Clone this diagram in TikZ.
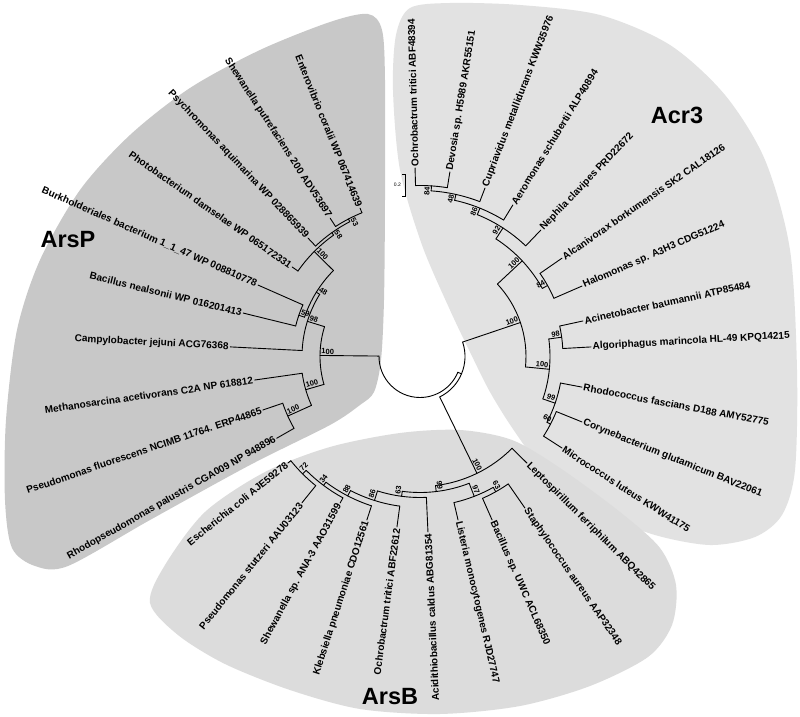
\documentclass[tikz,border=0pt]{standalone}
\usepackage{fontspec}
\setmainfont{Liberation Sans}

\definecolor{arspgray}{RGB}{200,200,200}
\definecolor{acrgray}{RGB}{226,226,226}
\definecolor{arsbgray}{RGB}{220,220,220}

% leaf: name, angle, base radius, tip radius, text
\newcommand{\taxleaf}[5]{%
  \draw[branch] (#2:#3) -- (#2:#4);
  \pgfmathtruncatemacro{\taxflip}{or(#2>95,#2<-86)}%
  \ifnum\taxflip=1
    \node[taxon, rotate=#2+180, anchor=east] (#1) at (#2:#4) {#5};
  \else
    \node[taxon, rotate=#2, anchor=west] (#1) at (#2:#4) {#5};
  \fi}

% clade: name, angle, parent radius, radius, arc from, arc to, bootstrap
\newcommand{\taxclade}[7]{%
  \draw[branch] (#2:#3) -- (#2:#4);
  \draw[branch] (#5:#4) arc[start angle=#5, end angle=#6, radius=#4pt];
  \pgfmathtruncatemacro{\taxflip}{or(#2>90,#2<-90)}%
  \ifnum\taxflip=1
    \node[boot, rotate=#2+180, anchor=south west] (#1) at (#2:#4) {#7};
  \else
    \node[boot, rotate=#2, anchor=south east] (#1) at (#2:#4) {#7};
  \fi}

\begin{document}
\begin{tikzpicture}[x=1pt, y=1pt,
    branch/.style={line width=0.9pt, line cap=round},
    taxon/.style={font=\bfseries\fontsize{10}{12}\selectfont, inner sep=1.5pt},
    boot/.style={font=\bfseries\fontsize{7.5}{8}\selectfont, inner sep=1.2pt},
    group/.style={font=\bfseries\fontsize{23.5}{28}\selectfont}]

    \useasboundingbox (-420,-360.5) rectangle (380,356.5);
    \fill[white] (-420,-360.5) rectangle (380,356.5);

    % group backgrounds (image coordinates)
    \begin{scope}[shift={(-420,356.5)}, yscale=-1]
        \fill[arspgray] plot[smooth cycle, tension=0.5] coordinates {
            (374,392) (381,360) (384,300) (385,200) (385,80) (382,30) (368,14)
            (330,22) (260,50) (190,88) (130,135) (80,190) (40,260) (17,330)
            (6,420) (5,500) (12,548) (35,566) (68,566) (150,520) (250,465)
            (330,425) (360,405)};
        \fill[acrgray] plot[smooth cycle, tension=0.5] coordinates {
            (410,8) (396,35) (393,90) (400,170) (422,245) (450,310) (470,352)
            (490,392) (515,432) (550,478) (600,513) (655,535) (710,545)
            (755,537) (782,515) (795,470) (797,370) (790,250) (765,160)
            (725,95) (670,45) (600,15) (520,5) (450,3)};
        \fill[arsbgray] plot[smooth cycle, tension=0.5] coordinates {
            (150,603) (165,565) (205,512) (265,472) (330,447) (400,433)
            (460,430) (512,440) (560,468) (620,512) (660,548) (676,585)
            (672,625) (648,657) (590,686) (520,706) (440,714) (360,709)
            (290,690) (225,664) (178,635)};
    \end{scope}

    % root circle
    \draw[branch] (179.4:41) arc[start angle=179.4, end angle=337.35, radius=41pt];
    \draw[branch] (337.35:41) -- (337.35:45);
    \draw[branch] (-64:45) arc[start angle=-64, end angle=18.7, radius=45pt];

    % ArsP
    \taxclade{p0}{179.4}{41}{100}{162.65}{196.2}{100}
    \taxclade{p98}{162.65}{100}{118}{148.2}{177.1}{98}
    \taxleaf{campy}{177.1}{118}{190}{Campylobacter jejuni ACG76368}
    \taxclade{p48}{148.2}{118}{122}{135.2}{161.2}{48}
    \taxclade{p59}{161.2}{122}{128}{156.2}{166.2}{59}
    \taxleaf{bneal}{166.2}{128}{182}{Bacillus nealsonii WP 016201413}
    \taxleaf{burk}{156.2}{128}{177}{Burkholderiales bacterium 1\_1\_47 WP 008810778}
    \taxclade{p100}{135.2}{122}{149}{125.45}{145}{100}
    \taxleaf{photo}{145}{149}{156}{Photobacterium damselae WP 065172331}
    \taxclade{p58}{125.45}{149}{152}{117.5}{133.4}{58}
    \taxleaf{psychro}{133.4}{152}{163}{Psychromonas aquimarina WP 028865939}
    \taxclade{p53}{117.5}{152}{155}{112}{123}{53}
    \taxleaf{sput}{123}{155}{165}{Shewanella putrefaciens 200 ADV53697}
    \taxleaf{entero}{112}{155}{160}{Enterovibrio coralii WP 067414639}
    \taxclade{p2}{196.2}{100}{119}{188.1}{204.25}{100}
    \taxleaf{methano}{188.1}{119}{167}{Methanosarcina acetivorans C2A NP 618812}
    \taxclade{p3}{204.25}{119}{145}{198.8}{209.7}{100}
    \taxleaf{pfluor}{198.8}{145}{166}{Pseudomonas fluorescens NCIMB 11764. ERP44865}
    \taxleaf{rpal}{209.7}{145}{165}{Rhodopseudomonas palustris CGA009 NP 948896}

    % Acr3
    \taxclade{a0}{18.7}{45}{106}{-5.65}{43.1}{100}
    \taxclade{a100}{43.1}{106}{140}{29.1}{57.15}{100}
    \taxclade{a92}{57.15}{140}{153}{46.3}{68}{92}
    \taxclade{a86}{68}{153}{160}{58.5}{77.5}{86}
    \taxclade{a48}{77.5}{160}{166}{68.9}{86.15}{48}
    \taxclade{a84}{86.15}{166}{171}{80.8}{91.5}{84}
    \taxleaf{ochra}{91.5}{171}{188.6}{Ochrobactrum tritici ABF48394}
    \taxleaf{devosia}{80.8}{171}{187}{Devosia sp. H5989 AKR55151}
    \taxleaf{cupria}{68.9}{166}{180.6}{Cupriavidus metallidurans KWW35976}
    \taxleaf{aero}{58.5}{160}{177.8}{Aeromonas schubertii ALP40894}
    \taxleaf{nephila}{46.3}{153}{175}{Nephila clavipes PRD22672}
    \taxclade{a84b}{29.1}{140}{146}{23.5}{34.7}{84}
    \taxleaf{alcani}{34.7}{146}{172.8}{Alcanivorax borkumensis SK2 CAL18126}
    \taxleaf{halo}{23.5}{146}{176.7}{Halomonas sp. A3H3 CDG51224}
    \taxclade{a2}{-5.65}{106}{130}{-19.05}{7.75}{100}
    \taxclade{a98}{7.75}{130}{143}{3.2}{12.3}{98}
    \taxleaf{acineto}{12.3}{143}{166.8}{Acinetobacter baumannii ATP85484}
    \taxleaf{algori}{3.2}{143}{171.3}{Algoriphagus marincola HL-49 KPQ14215}
    \taxclade{a99}{-19.05}{130}{143}{-27.4}{-10.7}{99}
    \taxleaf{rhodoc}{-10.7}{143}{164.8}{Rhodococcus fascians D188 AMY52775}
    \taxclade{a60}{-27.4}{143}{147}{-32.8}{-22}{60}
    \taxleaf{coryne}{-22}{147}{174.7}{Corynebacterium glutamicum BAV22061}
    \taxleaf{micro}{-32.8}{147}{169}{Micrococcus luteus KWW41175}

    % ArsB
    \taxclade{b0}{-64}{45}{130}{-83.15}{-44.9}{100}
    \taxleaf{lepto}{-44.9}{130}{151}{Leptospirillum ferriphilum ABQ42865}
    \taxclade{b99}{-83.15}{130}{136}{-97.5}{-68.8}{99}
    \taxclade{b97}{-68.8}{136}{150}{-76.9}{-60.75}{97}
    \taxleaf{lister}{-76.9}{150}{167.9}{Listeria monocytogenes RJD27747}
    \taxclade{b63r}{-60.75}{150}{155}{-66.2}{-55.3}{63}
    \taxleaf{bacil}{-66.2}{155}{178.7}{Bacillus sp. UWC ACL68350}
    \taxleaf{staph}{-55.3}{155}{184.3}{Staphylococcus aureus AAP32348}
    \taxclade{b63l}{-97.5}{136}{141}{-107.55}{-87.4}{63}
    \taxleaf{acidi}{-87.4}{141}{175.7}{Acidithiobacillus caldus ABG81354}
    \taxclade{b86}{-107.55}{141}{151}{-117.4}{-97.7}{86}
    \taxleaf{ochrb}{-97.7}{151}{172}{Ochrobactrum tritici ABF22612}
    \taxclade{b88}{-117.4}{151}{157}{-126.8}{-108}{88}
    \taxleaf{klebs}{-108}{157}{171.9}{Klebsiella pneumoniae CDO12561}
    \taxclade{b34}{-126.8}{157}{161}{-135}{-118.6}{34}
    \taxleaf{shew}{-118.6}{161}{166.9}{Shewanella sp. ANA-3 AAO31599}
    \taxclade{b72}{-135}{161}{166}{-141.1}{-128.9}{72}
    \taxleaf{pstut}{-128.9}{166}{188}{Pseudomonas stutzeri AAU03123}
    \taxleaf{ecoli}{-141.1}{166}{169.6}{Escherichia coli AJE59278}

    % scale bar
    \draw[line width=0.6pt] (-18,182.5) -- (-15,182.5) -- (-15,160.5) -- (-18,160.5);
    \node[font=\fontsize{5}{6}\selectfont, anchor=east, inner sep=1pt] (scale) at (-18,171.5) {0.2};

    % group names
    \node[group] (arsp) at (-352,116.5) {ArsP};
    \node[group] (acr3) at (257,241.5) {Acr3};
    \node[group] (arsb) at (-30,-340.5) {ArsB};

\end{tikzpicture}
\end{document}
